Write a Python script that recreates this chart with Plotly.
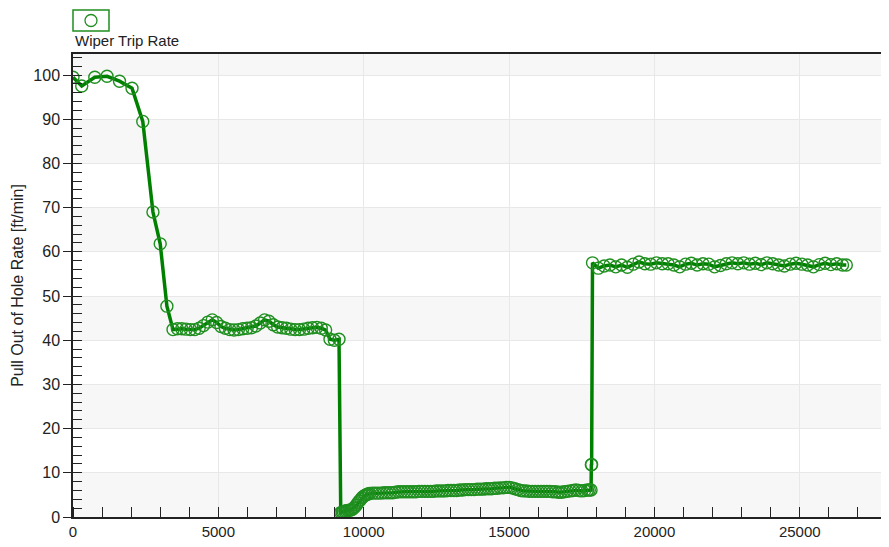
import plotly.graph_objects as go

# ---- data ----
seg1_x = [0, 300, 750, 1170, 1600, 2030, 2400, 2750, 3000, 3230]
seg1_y = [99.5, 97.5, 99.5, 99.7, 98.6, 97.0, 89.5, 69.0, 61.8, 47.7]

seg2_x = [3440, 3590, 3740, 3890, 4040, 4190, 4340, 4490, 4640, 4790, 4940, 5090, 5240,
          5390, 5540, 5690, 5840, 5990, 6140, 6290, 6440, 6590, 6740, 6890, 7040, 7190,
          7340, 7490, 7640, 7790, 7940, 8090, 8240, 8390, 8540, 8690, 8840, 8990, 9150]
seg2_y = [42.4, 42.6, 42.6, 42.5, 42.4, 42.4, 42.7, 43.3, 44.1, 44.6, 44.0, 43.1, 42.7,
          42.4, 42.3, 42.4, 42.6, 42.7, 42.8, 43.2, 43.9, 44.6, 44.3, 43.5, 43.0, 42.8,
          42.7, 42.5, 42.4, 42.4, 42.5, 42.7, 42.8, 42.9, 42.7, 42.3, 40.2, 40.0, 40.2]

seg3_x = [9210, 9260, 9300, 9350, 9400, 9450, 9500, 9550, 9600, 9650, 9700, 9750, 9800,
          9850, 9900, 9950, 10000, 10050, 10100, 10150, 10200, 10300,
          10400, 10500, 10600, 10700, 10800, 10900, 11000, 11100, 11200, 11300, 11400,
          11500, 11600, 11700, 11800, 11900, 12000, 12100, 12200, 12300, 12400, 12500,
          12600, 12700, 12800, 12900, 13000, 13100, 13200, 13300, 13400, 13500, 13600,
          13700, 13800, 13900, 14000, 14100, 14200, 14300, 14400, 14500, 14600, 14700,
          14800, 14900, 15000, 15100, 15200, 15300, 15400, 15500, 15600, 15700, 15800,
          15900, 16000, 16100, 16200, 16300, 16400, 16500, 16600, 16700, 16800, 16900,
          17000, 17100, 17200, 17300, 17400, 17500, 17600, 17700, 17760, 17820, 17830, 17840]
seg3_y = [1.0, 1.1, 1.2, 1.3, 1.4, 1.5, 1.5, 1.6, 1.7, 2.0, 2.3, 2.7, 3.2,
          3.6, 4.0, 4.4, 4.7, 4.9, 5.1, 5.2, 5.3, 5.4,
          5.4, 5.4, 5.4, 5.5, 5.5, 5.5, 5.5, 5.6, 5.7, 5.7, 5.7,
          5.7, 5.7, 5.7, 5.7, 5.8, 5.8, 5.8, 5.8, 5.8, 5.8, 5.9,
          5.9, 5.9, 5.9, 6.0, 6.0, 6.0, 6.0, 6.1, 6.1, 6.2, 6.2,
          6.2, 6.2, 6.3, 6.3, 6.3, 6.4, 6.4, 6.4, 6.5, 6.5, 6.6,
          6.6, 6.7, 6.7, 6.6, 6.4, 6.2, 6.0, 5.9, 5.9, 5.8, 5.8,
          5.8, 5.8, 5.8, 5.8, 5.8, 5.8, 5.7, 5.7, 5.6, 5.6, 5.7,
          5.8, 5.9, 6.0, 6.1, 6.0, 5.9, 6.0, 6.1, 6.1, 6.1, 11.8, 11.9]

seg4_x = [17870, 18070, 18270, 18470, 18670, 18870, 19070, 19270, 19470, 19670, 19870,
          20070, 20270, 20470, 20670, 20870, 21070, 21270, 21470, 21670, 21870, 22070,
          22270, 22470, 22670, 22870, 23070, 23270, 23470, 23670, 23870, 24070, 24270,
          24470, 24670, 24870, 25070, 25270, 25470, 25670, 25870, 26070, 26270, 26470,
          26600]
seg4_y = [57.5, 56.3, 56.8, 57.0, 56.6, 57.0, 56.5, 57.2, 57.7, 57.3, 57.2,
          57.5, 57.3, 57.3, 57.0, 56.6, 57.2, 57.4, 57.0, 57.3, 57.2, 56.6,
          56.9, 57.3, 57.5, 57.3, 57.5, 57.2, 57.4, 57.1, 57.5, 57.3, 57.0,
          56.8, 57.2, 57.4, 57.2, 57.0, 56.6, 57.1, 57.4, 57.1, 57.3, 57.0,
          57.0]

depth = seg1_x + seg2_x + seg3_x + seg4_x
rate = seg1_y + seg2_y + seg3_y + seg4_y

series_name = "Wiper Trip Rate"
y_title = "Pull Out of Hole Rate [ft/min]"
x_ticks = [0, 5000, 10000, 15000, 20000, 25000]
y_ticks = [0, 10, 20, 30, 40, 50, 60, 70, 80, 90, 100]

LINE = "#008000"
MARK = "#1f8f1f"
FONT = "Liberation Sans, Arial, sans-serif"

fig = go.Figure()
fig.add_trace(go.Scatter(
    x=depth, y=rate, mode="lines+markers", name=series_name,
    line=dict(color=LINE, width=3.5),
    marker=dict(symbol="circle-open", size=12, color=MARK, line=dict(width=1.4, color=MARK)),
    showlegend=False,
))

Y_MAX = 104.75
X_MAX = 28000

# page body has an 8px margin, so the figure is sized/offset accordingly
W, H = 881, 539
ML, MR, MT, MB = 65, 2, 46, 30
pw, ph = float(W - ML - MR), float(H - MT - MB)

shapes = []
# alternating horizontal bands
for lo in range(0, 110, 20):
    shapes.append(dict(type="rect", xref="paper", yref="y", x0=0, x1=1, y0=lo,
                       y1=min(lo + 10, Y_MAX), fillcolor="#f7f7f7", line=dict(width=0),
                       layer="below"))

# legend box (drawn in paper space above the plot area)
shapes.append(dict(type="rect", xref="paper", yref="paper",
                   x0=0, x1=36 / pw, y0=1 + 23 / ph, y1=1 + 44 / ph,
                   line=dict(color=MARK, width=1.5), fillcolor="white"))
cx, cy, r = 18 / pw, 1 + 33.5 / ph, 6
shapes.append(dict(type="circle", xref="paper", yref="paper",
                   x0=cx - r / pw, x1=cx + r / pw, y0=cy - r / ph, y1=cy + r / ph,
                   line=dict(color=MARK, width=1.3)))

fig.update_layout(
    width=W, height=H,
    margin=dict(l=ML, r=MR, t=MT, b=MB),
    paper_bgcolor="white", plot_bgcolor="white",
    font=dict(family=FONT, size=16, color="#222"),
    shapes=shapes,
    annotations=[dict(text=series_name, xref="paper", yref="paper", x=0, y=1 + 13 / ph,
                      xanchor="left", yanchor="middle", showarrow=False,
                      font=dict(family=FONT, size=15, color="#222"))],
)

fig.update_xaxes(
    range=[0, X_MAX], tickvals=x_ticks, ticktext=[str(v) for v in x_ticks],
    showgrid=True, gridcolor="#e8e8e8", gridwidth=1,
    showline=True, linecolor="#222", linewidth=1.5, mirror=True,
    ticks="", zeroline=False, automargin=False,
    minor=dict(dtick=1000, tick0=0, ticks="inside", ticklen=10, tickcolor="#222", tickwidth=1.2,
               showgrid=False),
    tickfont=dict(size=15),
)
fig.update_yaxes(
    range=[0, Y_MAX], tickvals=y_ticks, ticktext=[str(v) for v in y_ticks],
    showgrid=True, gridcolor="#e8e8e8", gridwidth=1,
    showline=True, linecolor="#222", linewidth=1.5, mirror=True,
    ticks="outside", ticklen=8, tickcolor="#222", tickwidth=1.2, zeroline=False,
    automargin=False,
    minor=dict(dtick=2, tick0=0, ticks="inside", ticklen=9, tickcolor="#222", tickwidth=1.2,
               showgrid=False),
    title=dict(text=y_title, font=dict(size=16), standoff=6),
    tickfont=dict(size=16),
)

fig.write_html("out.html")
